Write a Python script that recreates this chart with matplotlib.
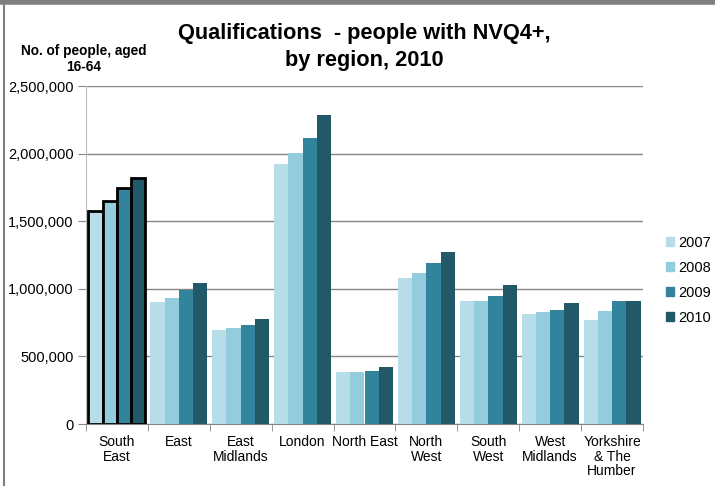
import matplotlib
matplotlib.use("Agg")
import matplotlib.pyplot as plt
import numpy as np
from matplotlib.ticker import FuncFormatter, FixedLocator
from matplotlib.lines import Line2D

plt.rcParams['font.family'] = ['Liberation Sans', 'DejaVu Sans']

regions = ["South\nEast", "East", "East\nMidlands", "London", "North East",
           "North\nWest", "South\nWest", "West\nMidlands", "Yorkshire\n& The\nHumber"]
years = ["2007", "2008", "2009", "2010"]
v2007 = [1573000, 902000, 695000, 1923000, 387000, 1080000, 910000, 814000, 769000]
v2008 = [1652000, 932000, 710000, 2005000, 387000, 1117000, 910000, 828000, 836000]
v2009 = [1746000, 991000, 732000, 2115000, 394000, 1191000, 947000, 843000, 910000]
v2010 = [1820000, 1043000, 777000, 2285000, 421000, 1272000, 1028000, 895000, 910000]
series = [v2007, v2008, v2009, v2010]
colors = ["#b7dde8", "#93cddd", "#31849b", "#215968"]

fig = plt.figure(figsize=(7.15, 4.86), dpi=100)
ax = fig.add_axes([86/715, 1-424/486, (643-86)/715, (424-86)/486])

n = len(regions)
x = np.arange(n)
w = 0.23
for i, (vals, c) in enumerate(zip(series, colors)):
    pos = x + (i - 1.5) * w
    bars = ax.bar(pos, vals, width=w, color=c, label=years[i], linewidth=0, zorder=3)
    # highlighted first region with black outline
    bars[0].set_edgecolor("black")
    bars[0].set_linewidth(2)

ax.set_xlim(-0.5, n - 0.5)
ax.set_ylim(0, 2500000)
ax.yaxis.set_major_locator(FixedLocator([0, 500000, 1000000, 1500000, 2000000, 2500000]))
ax.yaxis.set_major_formatter(FuncFormatter(lambda v, p: f"{int(v):,}"))
ax.grid(axis='y', color='#868686', linewidth=1, zorder=0)
ax.set_axisbelow(True)
for s in ['top', 'right']:
    ax.spines[s].set_visible(False)
ax.spines['left'].set_color('#bfbfbf')
ax.spines['bottom'].set_color('#868686')
ax.tick_params(axis='y', labelsize=10.5, length=6, color='#868686', pad=3)
ax.set_xticks(x)
ax.set_xticklabels(regions, fontsize=10, linespacing=1.05)
ax.tick_params(axis='x', length=0, pad=8)
ax.set_xticks(np.arange(n + 1) - 0.5, minor=True)
ax.tick_params(axis='x', which='minor', length=5, color='#868686')

fig.text(364/715, 1-47/486, "Qualifications  - people with NVQ4+,\nby region, 2010",
         ha='center', va='center', fontsize=15.7, fontweight='bold', linespacing=1.35)
fig.text(84/715, 1-59/486, "No. of people, aged\n16-64", ha='center', va='center',
         fontsize=9.8, fontweight='bold', linespacing=1.1)

handles = [plt.Rectangle((0, 0), 1, 1, color=c) for c in colors]
fig.legend(handles, years, loc='upper left', bbox_to_anchor=(666/715, 1-236/486),
           frameon=False, fontsize=10.5, handlelength=0.55, handleheight=0.55,
           handletextpad=0.3, labelspacing=0.75, borderaxespad=0, borderpad=0)

# outer frame lines
fig.add_artist(Line2D([0, 1], [1-2.5/486, 1-2.5/486], color='#7f7f7f', linewidth=4,
                      transform=fig.transFigure))
fig.add_artist(Line2D([4/715, 4/715], [0, 1-4/486], color='#7f7f7f', linewidth=1.5,
                      transform=fig.transFigure))

fig.savefig("out.png", dpi=100)
